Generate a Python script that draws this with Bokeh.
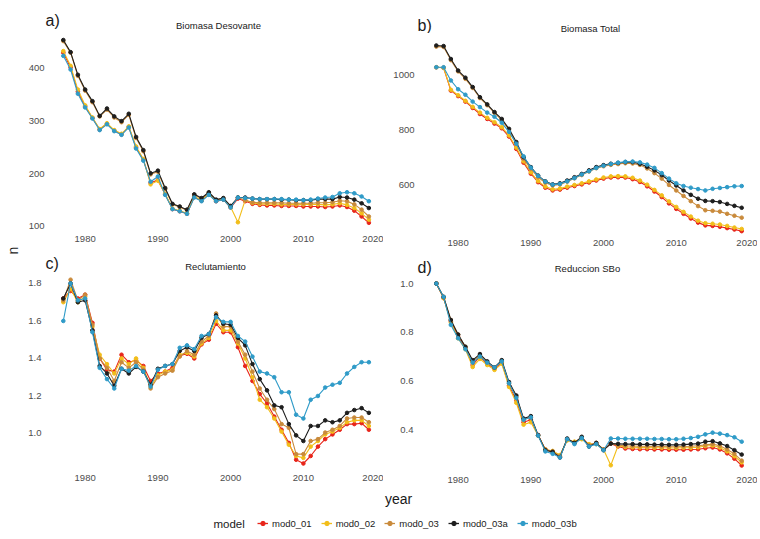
from math import pi

from bokeh.plotting import figure
from bokeh.models import Range1d, FixedTicker, PrintfTickFormatter, Label, Legend, LegendItem
from bokeh.layouts import row, column
from bokeh.embed import file_html
from bokeh.resources import INLINE

FONT = "Liberation Sans"

years = list(range(1977, 2020))
models = ["mod0_01", "mod0_02", "mod0_03", "mod0_03a", "mod0_03b"]
colors = ["#E8251A", "#F2BE1A", "#C98A3B", "#1E1E1E", "#2F9BC8"]
x_ticks = [1980, 1990, 2000, 2010, 2020]

# a) Biomasa Desovante
sb_01 = [430, 402, 356, 328, 306, 284, 295, 282, 275, 289,
         250, 227, 183, 188, 161, 133, 129, 124, 156, 149,
         161, 148, 151, 136, 153, 148, 143, 141, 140, 140,
         139, 139, 139, 138, 138, 138, 137, 138, 140, 137,
         130, 119, 107]
sb_02 = [433, 405, 360, 330, 307, 285, 296, 283, 276, 290,
         252, 228, 180, 187, 162, 134, 130, 125, 157, 150,
         162, 149, 152, 137, 108, 150, 145, 143, 143, 143,
         142, 142, 142, 142, 142, 142, 141, 142, 144, 141,
         135, 125, 113]
sb_03 = [452, 430, 386, 358, 336, 309, 322, 307, 298, 312,
         268, 243, 199, 204, 171, 142, 137, 131, 160, 153,
         164, 150, 153, 138, 155, 150, 146, 145, 145, 145,
         145, 144, 144, 144, 144, 145, 145, 146, 149, 148,
         142, 132, 119]
sb_03a = [454, 431, 388, 360, 338, 310, 324, 309, 300, 314,
          270, 245, 201, 206, 173, 143, 138, 132, 161, 154,
          165, 151, 154, 139, 155, 155, 153, 152, 152, 152,
          151, 151, 150, 150, 150, 152, 152, 152, 156, 155,
          151, 144, 135]
sb_03b = [424, 398, 352, 326, 305, 283, 294, 281, 274, 288,
          248, 225, 185, 195, 160, 133, 129, 124, 155, 148,
          160, 148, 151, 136, 155, 154, 153, 152, 152, 152,
          152, 151, 151, 150, 151, 153, 155, 156, 163, 165,
          163, 157, 148]

# b) Biomasa Total
bt_01 = [1030, 1028, 945, 925, 905, 882, 860, 842, 825, 808,
         778, 733, 683, 643, 612, 592, 582, 585, 592, 598,
         604, 611, 618, 625, 629, 630, 629, 623, 613, 597,
         578, 558, 535, 515, 497, 480, 465, 455, 453, 450,
         445, 440, 434]
bt_02 = [1030, 1028, 948, 928, 908, 886, 865, 846, 830, 812,
         782, 738, 688, 648, 616, 596, 586, 589, 596, 602,
         608, 615, 622, 629, 633, 634, 633, 628, 618, 603,
         584, 564, 542, 522, 504, 487, 472, 463, 461, 458,
         453, 447, 442]
bt_03 = [1105, 1104, 1056, 1015, 988, 955, 918, 892, 864, 838,
         802, 752, 697, 660, 630, 610, 600, 604, 614, 626,
         638, 651, 663, 670, 675, 678, 681, 680, 675, 662,
         645, 625, 602, 582, 562, 543, 525, 510, 508, 505,
         497, 490, 483]
bt_03a = [1109, 1107, 1060, 1018, 992, 958, 921, 895, 867, 842,
          806, 758, 703, 667, 636, 615, 604, 608, 618, 630,
          642, 655, 667, 674, 679, 682, 685, 685, 679, 668,
          655, 638, 618, 600, 582, 566, 552, 544, 543, 540,
          533, 526, 519]
bt_03b = [1030, 1030, 982, 950, 930, 905, 885, 865, 850, 828,
          795, 752, 706, 665, 635, 614, 603, 606, 615, 627,
          640, 652, 664, 672, 678, 683, 686, 687, 684, 676,
          664, 645, 625, 608, 598, 592, 587, 582, 588, 591,
          594, 597, 598]

# c) Reclutamiento
rc_01 = [1.72, 1.76, 1.72, 1.74, 1.59, 1.40, 1.34, 1.33, 1.42, 1.38,
         1.39, 1.36, 1.28, 1.32, 1.33, 1.35, 1.415, 1.425, 1.40, 1.475,
         1.50, 1.585, 1.54, 1.54, 1.46, 1.36, 1.28, 1.21, 1.16, 1.09,
         1.02, 0.95, 0.86, 0.84, 0.88, 0.93, 0.97, 0.995, 1.02, 1.05,
         1.05, 1.055, 1.02]
rc_02 = [1.70, 1.77, 1.70, 1.73, 1.57, 1.42, 1.37, 1.32, 1.40, 1.37,
         1.40, 1.35, 1.25, 1.31, 1.33, 1.34, 1.42, 1.43, 1.41, 1.48,
         1.51, 1.60, 1.55, 1.55, 1.48, 1.40, 1.30, 1.18, 1.14, 1.08,
         1.01, 0.94, 0.88, 0.87, 0.93, 0.96, 0.995, 1.01, 1.03, 1.06,
         1.07, 1.07, 1.04]
rc_03 = [1.71, 1.82, 1.71, 1.74, 1.58, 1.40, 1.35, 1.28, 1.38, 1.35,
         1.38, 1.34, 1.24, 1.30, 1.32, 1.335, 1.41, 1.44, 1.42, 1.49,
         1.52, 1.64, 1.57, 1.57, 1.49, 1.42, 1.33, 1.24, 1.18, 1.13,
         1.05, 1.03, 0.89, 0.89, 0.96, 0.97, 1.005, 1.02, 1.04, 1.08,
         1.085, 1.085, 1.06]
rc_03a = [1.72, 1.80, 1.70, 1.71, 1.55, 1.36, 1.32, 1.255, 1.345, 1.32,
          1.355, 1.33, 1.26, 1.345, 1.36, 1.37, 1.44, 1.46, 1.44, 1.51,
          1.53, 1.63, 1.585, 1.58, 1.51, 1.47, 1.37, 1.29, 1.23, 1.15,
          1.14, 1.05, 0.99, 0.96, 1.04, 1.04, 1.07, 1.06, 1.07, 1.11,
          1.125, 1.135, 1.11]
rc_03b = [1.60, 1.80, 1.71, 1.72, 1.54, 1.35, 1.29, 1.24, 1.345, 1.335,
          1.36, 1.33, 1.25, 1.34, 1.36, 1.37, 1.457, 1.47, 1.45, 1.52,
          1.53, 1.62, 1.595, 1.595, 1.52, 1.49, 1.41, 1.33, 1.32, 1.30,
          1.22, 1.22, 1.10, 1.08, 1.18, 1.20, 1.245, 1.26, 1.27, 1.32,
          1.355, 1.38, 1.38]

# d) Reduccion SBo
rs_01 = [1.0, 0.94, 0.845, 0.78, 0.735, 0.665, 0.70, 0.67, 0.65, 0.675,
         0.58, 0.52, 0.43, 0.44, 0.377, 0.318, 0.31, 0.29, 0.358, 0.348,
         0.365, 0.338, 0.342, 0.318, 0.342, 0.33, 0.322, 0.32, 0.319, 0.319,
         0.318, 0.318, 0.317, 0.317, 0.317, 0.318, 0.319, 0.323, 0.326, 0.318,
         0.302, 0.28, 0.252]
rs_02 = [1.0, 0.94, 0.84, 0.775, 0.73, 0.657, 0.69, 0.665, 0.645, 0.67,
         0.575, 0.51, 0.42, 0.43, 0.375, 0.318, 0.312, 0.295, 0.355, 0.35,
         0.36, 0.34, 0.34, 0.318, 0.253, 0.333, 0.328, 0.327, 0.326, 0.326,
         0.325, 0.325, 0.324, 0.324, 0.325, 0.325, 0.327, 0.332, 0.334, 0.326,
         0.31, 0.29, 0.265]
rs_03 = [1.0, 0.945, 0.85, 0.79, 0.74, 0.68, 0.705, 0.675, 0.655, 0.68,
         0.59, 0.535, 0.44, 0.45, 0.375, 0.315, 0.31, 0.29, 0.36, 0.345,
         0.368, 0.335, 0.345, 0.318, 0.342, 0.335, 0.333, 0.332, 0.331, 0.331,
         0.330, 0.330, 0.329, 0.329, 0.330, 0.331, 0.333, 0.337, 0.34, 0.333,
         0.318, 0.30, 0.272]
rs_03a = [1.0, 0.945, 0.85, 0.79, 0.74, 0.685, 0.71, 0.68, 0.655, 0.685,
          0.595, 0.54, 0.445, 0.455, 0.377, 0.315, 0.308, 0.285, 0.363, 0.345,
          0.37, 0.33, 0.345, 0.315, 0.342, 0.341, 0.340, 0.340, 0.339, 0.339,
          0.338, 0.338, 0.337, 0.337, 0.338, 0.340, 0.342, 0.35, 0.352, 0.343,
          0.332, 0.315, 0.297]
rs_03b = [1.0, 0.945, 0.83, 0.775, 0.73, 0.675, 0.70, 0.675, 0.655, 0.68,
          0.59, 0.53, 0.44, 0.45, 0.375, 0.31, 0.30, 0.285, 0.36, 0.34,
          0.365, 0.33, 0.34, 0.315, 0.363, 0.363, 0.362, 0.362, 0.362, 0.362,
          0.361, 0.361, 0.36, 0.36, 0.362, 0.365, 0.37, 0.38, 0.387, 0.383,
          0.377, 0.368, 0.35]


def blank(width, height):
    # empty figure used only to carry text labels
    f = figure(width=width, height=height, x_range=Range1d(0, 1), y_range=Range1d(0, 1),
               x_axis_type=None, y_axis_type=None, output_backend="svg",
               toolbar_location=None, tools="", min_border=0, title=None)
    f.outline_line_color = None
    f.grid.grid_line_color = None
    return f


def text(f, x, y, s, size, align="left", angle=0.0):
    f.add_layout(Label(x=x, y=y, x_units="screen", y_units="screen", text=s,
                       angle=angle, text_font=FONT, text_font_size=size,
                       text_color="#1A1A1A", text_align=align, text_baseline="middle"))


def panel(series, width, height, borders, x_end, y_range, y_ticks,
          fmt="%d", y_standoff=13, x_standoff=2):
    left, right, bottom = borders
    p = figure(width=width, height=height, x_range=Range1d(1976.2, x_end),
               y_range=Range1d(*y_range), output_backend="svg",
               toolbar_location=None, tools="", title=None,
               min_border_left=left, min_border_right=right,
               min_border_top=0, min_border_bottom=bottom)
    p.grid.grid_line_color = None
    p.outline_line_color = None
    for vals, c in zip(series, colors):
        p.line(years, vals, line_color=c, line_width=1.1)
        p.scatter(years, vals, size=3.6, fill_color=c, line_color=c)

    p.xaxis.ticker = FixedTicker(ticks=x_ticks)
    p.yaxis.ticker = FixedTicker(ticks=y_ticks)
    p.xaxis.formatter = PrintfTickFormatter(format="%d")
    p.yaxis.formatter = PrintfTickFormatter(format=fmt)
    for ax in p.axis:
        ax.axis_line_color = None
        ax.major_tick_line_color = None
        ax.minor_tick_line_color = None
        ax.major_tick_out = 0
        ax.major_tick_in = 0
        ax.minor_tick_out = 0
        ax.major_label_text_font = FONT
        ax.major_label_text_font_size = "9.5px"
        ax.major_label_text_color = "#4D4D4D"
    p.xaxis.major_label_standoff = x_standoff
    p.yaxis.major_label_standoff = y_standoff
    return p


pa = panel([sb_01, sb_02, sb_03, sb_03a, sb_03b], 358, 217, (30, 3, 16), 2020.6,
           (84.8, 466.4), [100, 200, 300, 400], y_standoff=13, x_standoff=1)
pb = panel([bt_01, bt_02, bt_03, bt_03a, bt_03b], 374, 217, (47, 2, 16), 2020.9,
           (421.8, 1152.7), [600, 800, 1000], y_standoff=16, x_standoff=5)
pc = panel([rc_01, rc_02, rc_03, rc_03a, rc_03b], 358, 214, (30, 3, 18), 2020.6,
           (0.792, 1.837), [1.0, 1.2, 1.4, 1.6, 1.8], fmt="%.1f", y_standoff=16,
           x_standoff=2)
pd_ = panel([rs_01, rs_02, rs_03, rs_03a, rs_03b], 374, 214, (47, 2, 18), 2020.9,
            (0.2233, 1.0288), [0.4, 0.6, 0.8, 1.0], fmt="%.1f", y_standoff=17,
            x_standoff=4)

# panel tags and titles above each row
h1 = blank(732, 33)
text(h1, 20, 13, "a)", "16px")
text(h1, 193, 8, "Biomasa Desovante", "9.5px", align="center")
text(h1, 392, 8, "b)", "16px")
text(h1, 565, 5, "Biomasa Total", "9.5px", align="center")

h2 = blank(732, 26)
text(h2, 20, 13, "c)", "16px")
text(h2, 190, 10, "Reclutamiento", "9.5px", align="center")
text(h2, 392, 9, "d)", "16px")
text(h2, 562, 8, "Reduccion SBo", "9.5px", align="center")

# shared y label
nfig = blank(25, 490)
text(nfig, 12, 240, "n", "14px", align="center", angle=pi / 2)

# shared x label and legend
leg = blank(757, 46)
text(leg, 398, 38, "year", "14px", align="center")
text(leg, 213, 13, "model", "11.5px")
items = []
for m, c, vals in zip(models, colors, [sb_01, sb_02, sb_03, sb_03a, sb_03b]):
    # series drawn far outside this strip's range, only their legend keys show
    r1 = leg.line(years, vals, line_color=c, line_width=1.3)
    r2 = leg.scatter(years, vals, size=4, fill_color=c, line_color=c)
    items.append(LegendItem(label=m, renderers=[r1, r2]))
legend = Legend(items=items, orientation="horizontal", location=(257, 7),
                glyph_width=11, glyph_height=12, label_height=12,
                label_standoff=4, spacing=9, padding=0, margin=0,
                border_line_color=None, background_fill_alpha=0,
                label_text_font=FONT, label_text_font_size="9.5px",
                label_text_color="#1A1A1A")
leg.add_layout(legend)

panels = column(h1, row(pa, pb), h2, row(pc, pd_))
layout = column(row(nfig, panels), leg)
open("out.html", "w").write(file_html(layout, INLINE))
